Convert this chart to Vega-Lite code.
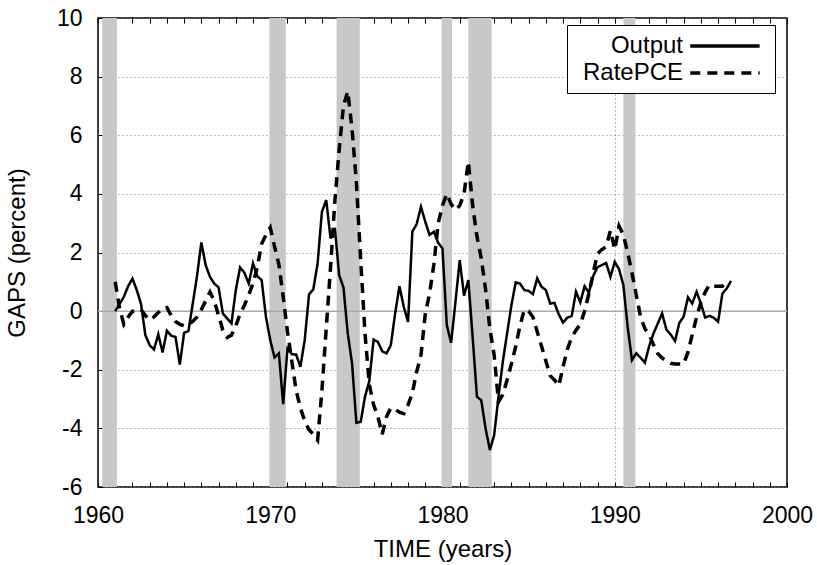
{
  "$schema": "https://vega.github.io/schema/vega-lite/v6.json",
  "width": 689,
  "height": 469,
  "autosize": {"type": "none"},
  "padding": {"left": 98, "top": 18, "right": 30, "bottom": 78},
  "background": "white",
  "config": {
    "font": "Liberation Sans",
    "view": {"stroke": "black", "strokeWidth": 1.5},
    "axis": {"labelColor": "black", "titleColor": "black", "tickColor": "black", "titleFontWeight": "normal", "labelFontSize": 23, "titleFontSize": 24},
    "axisY": {"grid": true, "gridDash": [1, 3], "gridColor": "#777777", "gridWidth": 1}
  },
  "datasets": {
    "gaps": [
        {"t":1961.00,"Output":0.0,"Rate":1.0},
        {"t":1961.25,"Output":0.24,"Rate":0.1},
        {"t":1961.50,"Output":0.49,"Rate":-0.45},
        {"t":1961.75,"Output":0.85,"Rate":-0.2},
        {"t":1962.00,"Output":1.11,"Rate":0.0},
        {"t":1962.25,"Output":0.72,"Rate":0.0},
        {"t":1962.50,"Output":0.24,"Rate":0.05},
        {"t":1962.75,"Output":-0.82,"Rate":-0.15},
        {"t":1963.00,"Output":-1.16,"Rate":-0.3},
        {"t":1963.25,"Output":-1.31,"Rate":-0.2},
        {"t":1963.50,"Output":-0.79,"Rate":-0.05},
        {"t":1963.75,"Output":-1.41,"Rate":0.1},
        {"t":1964.00,"Output":-0.67,"Rate":0.12},
        {"t":1964.25,"Output":-0.84,"Rate":-0.15},
        {"t":1964.50,"Output":-0.88,"Rate":-0.35},
        {"t":1964.75,"Output":-1.82,"Rate":-0.45},
        {"t":1965.00,"Output":-0.74,"Rate":-0.5},
        {"t":1965.25,"Output":-0.68,"Rate":-0.45},
        {"t":1965.50,"Output":0.25,"Rate":-0.35},
        {"t":1965.75,"Output":1.2,"Rate":-0.2},
        {"t":1966.00,"Output":2.34,"Rate":0.05},
        {"t":1966.25,"Output":1.57,"Rate":0.35},
        {"t":1966.50,"Output":1.17,"Rate":0.65},
        {"t":1966.75,"Output":0.94,"Rate":0.35},
        {"t":1967.00,"Output":0.81,"Rate":-0.15},
        {"t":1967.25,"Output":-0.08,"Rate":-0.65},
        {"t":1967.50,"Output":-0.25,"Rate":-0.9},
        {"t":1967.75,"Output":-0.42,"Rate":-0.82},
        {"t":1968.00,"Output":0.72,"Rate":-0.5},
        {"t":1968.25,"Output":1.49,"Rate":-0.1},
        {"t":1968.50,"Output":1.31,"Rate":0.2},
        {"t":1968.75,"Output":0.94,"Rate":0.55},
        {"t":1969.00,"Output":1.63,"Rate":0.95},
        {"t":1969.25,"Output":1.19,"Rate":1.5},
        {"t":1969.50,"Output":1.06,"Rate":2.3},
        {"t":1969.75,"Output":-0.19,"Rate":2.6},
        {"t":1970.00,"Output":-0.99,"Rate":2.85},
        {"t":1970.25,"Output":-1.58,"Rate":2.2},
        {"t":1970.50,"Output":-1.44,"Rate":1.6},
        {"t":1970.75,"Output":-3.17,"Rate":0.5},
        {"t":1971.00,"Output":-1.27,"Rate":-0.7},
        {"t":1971.25,"Output":-1.47,"Rate":-1.7},
        {"t":1971.50,"Output":-1.48,"Rate":-2.7},
        {"t":1971.75,"Output":-1.9,"Rate":-3.3},
        {"t":1972.00,"Output":-0.99,"Rate":-3.75},
        {"t":1972.25,"Output":0.57,"Rate":-4.05},
        {"t":1972.50,"Output":0.74,"Rate":-4.2},
        {"t":1972.75,"Output":1.63,"Rate":-4.4},
        {"t":1973.00,"Output":3.39,"Rate":-2.7},
        {"t":1973.25,"Output":3.79,"Rate":-0.6},
        {"t":1973.50,"Output":2.48,"Rate":1.5},
        {"t":1973.75,"Output":2.84,"Rate":3.75},
        {"t":1974.00,"Output":1.23,"Rate":5.5},
        {"t":1974.25,"Output":0.81,"Rate":7.0},
        {"t":1974.50,"Output":-0.76,"Rate":7.5},
        {"t":1974.75,"Output":-1.79,"Rate":6.2},
        {"t":1975.00,"Output":-3.81,"Rate":4.4},
        {"t":1975.25,"Output":-3.78,"Rate":1.75},
        {"t":1975.50,"Output":-2.92,"Rate":-0.75},
        {"t":1975.75,"Output":-2.39,"Rate":-2.5},
        {"t":1976.00,"Output":-0.97,"Rate":-3.2},
        {"t":1976.25,"Output":-1.05,"Rate":-3.6},
        {"t":1976.50,"Output":-1.37,"Rate":-4.2},
        {"t":1976.75,"Output":-1.44,"Rate":-3.6},
        {"t":1977.00,"Output":-1.16,"Rate":-3.3},
        {"t":1977.25,"Output":-0.08,"Rate":-3.35},
        {"t":1977.50,"Output":0.85,"Rate":-3.45},
        {"t":1977.75,"Output":0.15,"Rate":-3.5},
        {"t":1978.00,"Output":-0.37,"Rate":-3.2},
        {"t":1978.25,"Output":2.71,"Rate":-2.8},
        {"t":1978.50,"Output":2.97,"Rate":-2.07},
        {"t":1978.75,"Output":3.56,"Rate":-1.5},
        {"t":1979.00,"Output":3.05,"Rate":-0.1},
        {"t":1979.25,"Output":2.6,"Rate":0.6},
        {"t":1979.50,"Output":2.71,"Rate":1.6},
        {"t":1979.75,"Output":2.33,"Rate":3.0},
        {"t":1980.00,"Output":2.14,"Rate":3.6},
        {"t":1980.25,"Output":-0.48,"Rate":4.0},
        {"t":1980.50,"Output":-1.08,"Rate":3.65},
        {"t":1980.75,"Output":0.3,"Rate":3.45},
        {"t":1981.00,"Output":1.74,"Rate":3.6},
        {"t":1981.25,"Output":0.53,"Rate":4.0},
        {"t":1981.50,"Output":1.06,"Rate":5.1},
        {"t":1981.75,"Output":-0.88,"Rate":3.6},
        {"t":1982.00,"Output":-2.92,"Rate":2.55},
        {"t":1982.25,"Output":-3.04,"Rate":1.8},
        {"t":1982.50,"Output":-4.0,"Rate":0.75},
        {"t":1982.75,"Output":-4.74,"Rate":-0.6},
        {"t":1983.00,"Output":-4.23,"Rate":-1.5},
        {"t":1983.25,"Output":-2.92,"Rate":-3.1},
        {"t":1983.50,"Output":-1.73,"Rate":-2.85},
        {"t":1983.75,"Output":-0.76,"Rate":-2.35},
        {"t":1984.00,"Output":0.2,"Rate":-1.8},
        {"t":1984.25,"Output":0.98,"Rate":-1.2},
        {"t":1984.50,"Output":0.94,"Rate":-0.5},
        {"t":1984.75,"Output":0.72,"Rate":0.05},
        {"t":1985.00,"Output":0.69,"Rate":0.0},
        {"t":1985.25,"Output":0.58,"Rate":-0.2},
        {"t":1985.50,"Output":1.12,"Rate":-0.7},
        {"t":1985.75,"Output":0.83,"Rate":-1.2},
        {"t":1986.00,"Output":0.72,"Rate":-1.7},
        {"t":1986.25,"Output":0.26,"Rate":-2.2},
        {"t":1986.50,"Output":0.28,"Rate":-2.35},
        {"t":1986.75,"Output":-0.11,"Rate":-2.55},
        {"t":1987.00,"Output":-0.39,"Rate":-1.9},
        {"t":1987.25,"Output":-0.22,"Rate":-1.3},
        {"t":1987.50,"Output":-0.17,"Rate":-0.9},
        {"t":1987.75,"Output":0.66,"Rate":-0.65},
        {"t":1988.00,"Output":0.3,"Rate":-0.45},
        {"t":1988.25,"Output":0.85,"Rate":0.0},
        {"t":1988.50,"Output":0.63,"Rate":0.6},
        {"t":1988.75,"Output":1.2,"Rate":1.3},
        {"t":1989.00,"Output":1.5,"Rate":1.95},
        {"t":1989.25,"Output":1.57,"Rate":2.1},
        {"t":1989.50,"Output":1.64,"Rate":2.2},
        {"t":1989.75,"Output":1.17,"Rate":2.75},
        {"t":1990.00,"Output":1.68,"Rate":2.1},
        {"t":1990.25,"Output":1.43,"Rate":2.9},
        {"t":1990.50,"Output":0.89,"Rate":2.6},
        {"t":1990.75,"Output":-0.54,"Rate":2.0},
        {"t":1991.00,"Output":-1.67,"Rate":1.3},
        {"t":1991.25,"Output":-1.44,"Rate":0.55},
        {"t":1991.50,"Output":-1.59,"Rate":-0.2},
        {"t":1991.75,"Output":-1.76,"Rate":-0.6},
        {"t":1992.00,"Output":-1.19,"Rate":-0.8},
        {"t":1992.25,"Output":-0.76,"Rate":-1.15},
        {"t":1992.50,"Output":-0.42,"Rate":-1.45},
        {"t":1992.75,"Output":-0.08,"Rate":-1.6},
        {"t":1993.00,"Output":-0.63,"Rate":-1.7},
        {"t":1993.25,"Output":-0.8,"Rate":-1.78},
        {"t":1993.50,"Output":-1.02,"Rate":-1.8},
        {"t":1993.75,"Output":-0.4,"Rate":-1.8},
        {"t":1994.00,"Output":-0.19,"Rate":-1.8},
        {"t":1994.25,"Output":0.47,"Rate":-1.4},
        {"t":1994.50,"Output":0.26,"Rate":-0.8},
        {"t":1994.75,"Output":0.66,"Rate":-0.2},
        {"t":1995.00,"Output":0.26,"Rate":0.3},
        {"t":1995.25,"Output":-0.22,"Rate":0.65},
        {"t":1995.50,"Output":-0.16,"Rate":0.9},
        {"t":1995.75,"Output":-0.23,"Rate":0.85},
        {"t":1996.00,"Output":-0.36,"Rate":0.85},
        {"t":1996.25,"Output":0.6,"Rate":0.85},
        {"t":1996.50,"Output":0.77,"Rate":1.0},
        {"t":1996.75,"Output":1.03,"Rate":null}
    ],
    "bands": [
        {"a": 1960.25, "b": 1961.1},
        {"a": 1969.95, "b": 1970.9},
        {"a": 1973.85, "b": 1975.2},
        {"a": 1979.95, "b": 1980.55},
        {"a": 1981.5, "b": 1982.85},
        {"a": 1990.5, "b": 1991.2}
    ],
    "zero": [{"z": 0}]
  },
  "resolve": {"axis": {"x": "independent"}},
  "layer": [
    {
      "data": {"name": "bands"},
      "mark": {"type": "rect", "color": "#c8c8c8"},
      "encoding": {
        "x": {"field": "a", "type": "quantitative", "scale": {"domain": [1960, 2000], "nice": false, "zero": false},
          "axis": {
            "orient": "bottom",
            "values": [1960,1961,1962,1963,1964,1965,1966,1967,1968,1969,1970,1971,1972,1973,1974,1975,1976,1977,1978,1979,1980,1981,1982,1983,1984,1985,1986,1987,1988,1989,1990,1991,1992,1993,1994,1995,1996,1997,1998,1999,2000],
            "labelExpr": "datum.value % 10 === 0 ? '' + datum.value : ''",
            "labelFlush": false,
            "labelOverlap": false,
            "tickSize": -5,
            "grid": true,
            "gridOpacity": {"condition": {"test": "datum.value === 1970 || datum.value === 1980 || datum.value === 1990", "value": 1}, "value": 0},
            "gridDash": [1, 3],
            "gridColor": "#777777",
            "domain": false,
            "labelPadding": 22,
            "title": "TIME (years)",
            "titlePadding": 10
          }
        },
        "x2": {"field": "b"}
      }
    },
    {
      "data": {"name": "zero"},
      "mark": {"type": "rule", "color": "#aaaaaa", "strokeWidth": 1.5},
      "encoding": {
        "y": {"field": "z", "type": "quantitative", "scale": {"domain": [-6, 10], "nice": false},
          "axis": {
            "values": [-6, -4, -2, 0, 2, 4, 6, 8, 10],
            "labelExpr": "'' + datum.value",
            "tickSize": -5,
            "grid": true,
            "gridDash": [1, 3],
            "gridColor": "#777777",
            "domain": false,
            "labelPadding": 21,
            "title": "GAPS (percent)",
            "titlePadding": 27
          }
        }
      }
    },
    {
      "data": {"name": "gaps"},
      "transform": [{"fold": ["Output", "Rate"], "as": ["series", "val"]}, {"filter": "datum.series === 'Output'"}],
      "mark": {"type": "line", "color": "black", "strokeWidth": 2.5},
      "encoding": {
        "x": {"field": "t", "type": "quantitative",
          "axis": {
            "orient": "top",
            "values": [1960,1961,1962,1963,1964,1965,1966,1967,1968,1969,1970,1971,1972,1973,1974,1975,1976,1977,1978,1979,1980,1981,1982,1983,1984,1985,1986,1987,1988,1989,1990,1991,1992,1993,1994,1995,1996,1997,1998,1999,2000],
            "labels": false,
            "tickSize": -5,
            "grid": false,
            "domain": false,
            "title": null
          }
        },
        "y": {"field": "val", "type": "quantitative"},
        "strokeDash": {"field": "series", "type": "nominal",
          "scale": {"domain": ["Output", "Rate"], "range": [[1, 0], [10, 7]]},
          "legend": {
            "orient": "none",
            "legendX": 469,
            "legendY": 7,
            "title": null,
            "labelFontSize": 24,
            "labelColor": "black",
            "labelExpr": "datum.label === 'Rate' ? 'RatePCE' : datum.label",
            "labelAlign": "right",
            "labelOffset": 82,
            "symbolOffset": 0,
            "symbolType": "M9.3,0H15.6",
            "symbolSize": 484,
            "symbolStrokeWidth": 3.5,
            "symbolStrokeColor": "black",
            "rowPadding": 2,
            "strokeColor": "black",
            "fillColor": "white",
            "padding": 8
          }
        }
      }
    },
    {
      "data": {"name": "gaps"},
      "transform": [{"fold": ["Output", "Rate"], "as": ["series", "val"]}, {"filter": "datum.series === 'Rate'"}],
      "mark": {"type": "line", "color": "black", "strokeWidth": 3.5},
      "encoding": {
        "x": {"field": "t", "type": "quantitative", "axis": null},
        "y": {"field": "val", "type": "quantitative"},
        "strokeDash": {"field": "series", "type": "nominal"}
      }
    }
  ]
}
